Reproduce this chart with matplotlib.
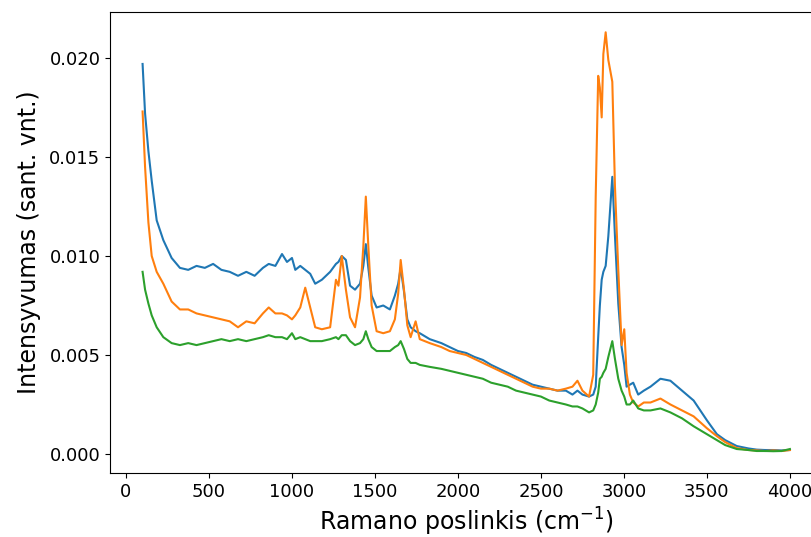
import matplotlib
matplotlib.use("Agg")
import matplotlib.pyplot as plt

raman_shift = [100, 115, 135, 155, 185, 225, 275, 325, 375, 425, 475, 525, 575, 625, 675, 725,
               775, 825, 860, 900, 940, 970, 1000, 1020, 1050, 1080, 1110, 1140, 1180, 1230,
               1265, 1280, 1300, 1325, 1350, 1380, 1410, 1430, 1445, 1460, 1480, 1510, 1550,
               1590, 1620, 1640, 1655, 1675, 1695, 1715, 1745, 1770, 1830, 1900, 1950, 2000,
               2050, 2100, 2150, 2200, 2250, 2300, 2350, 2400, 2450, 2500, 2550, 2600, 2650,
               2690, 2720, 2750, 2790, 2815, 2830, 2845, 2855, 2866, 2876, 2890, 2906, 2930,
               2946, 2966, 2986, 3002, 3016, 3036, 3056, 3086, 3120, 3160, 3220, 3280, 3350,
               3420, 3500, 3560, 3610, 3680, 3750, 3800, 3850, 3900, 3950, 4000]

spectrum_blue = [0.0197, 0.0172, 0.0153, 0.0138, 0.0118, 0.0108, 0.0099, 0.0094, 0.0093, 0.0095,
                 0.0094, 0.0096, 0.0093, 0.0092, 0.0090, 0.0092, 0.0090, 0.0094, 0.0096, 0.0095,
                 0.0101, 0.0097, 0.0099, 0.0093, 0.0095, 0.0093, 0.0091, 0.0086, 0.0088, 0.0092,
                 0.0096, 0.0097, 0.0100, 0.0098, 0.0085, 0.0083, 0.0086, 0.0095, 0.0106, 0.0094,
                 0.0080, 0.0074, 0.0075, 0.0073, 0.0080, 0.0086, 0.0094, 0.0082, 0.0068, 0.0064,
                 0.0062, 0.0061, 0.0058, 0.0056, 0.0054, 0.0052, 0.0051, 0.0049, 0.00475, 0.0045,
                 0.0043, 0.0041, 0.0039, 0.0037, 0.0035, 0.0034, 0.0033, 0.0032, 0.0032, 0.0030,
                 0.0032, 0.0030, 0.0029, 0.0030, 0.0034, 0.0059, 0.0075, 0.0088, 0.0092, 0.0095,
                 0.0110, 0.0140, 0.0110, 0.0076, 0.0054, 0.0045, 0.0034, 0.0035, 0.0036, 0.0030,
                 0.0032, 0.0034, 0.0038, 0.0037, 0.0032, 0.0027, 0.0017, 0.0010, 0.0007, 0.0004,
                 0.00028, 0.00022, 0.0002, 0.0002, 0.00018, 0.0002]

spectrum_orange = [0.0173, 0.0145, 0.0117, 0.0100, 0.0092, 0.0086, 0.0077, 0.0073, 0.0073, 0.0071,
                   0.0070, 0.0069, 0.0068, 0.0067, 0.0064, 0.0067, 0.0066, 0.0071, 0.0074, 0.0071,
                   0.0071, 0.0070, 0.0068, 0.0070, 0.0074, 0.0084, 0.0074, 0.0064, 0.0063, 0.0064,
                   0.0088, 0.0085, 0.0100, 0.0083, 0.0069, 0.0064, 0.0079, 0.0105, 0.0130, 0.0105,
                   0.0075, 0.0062, 0.0061, 0.0062, 0.0068, 0.0081, 0.0098, 0.0083, 0.0065, 0.0059,
                   0.0067, 0.0058, 0.0056, 0.0054, 0.0052, 0.0051, 0.0050, 0.0048, 0.0046, 0.0044,
                   0.0042, 0.0040, 0.0038, 0.0036, 0.0034, 0.0033, 0.0033, 0.0032, 0.0033, 0.0034,
                   0.0037, 0.0032, 0.0029, 0.0040, 0.0130, 0.0191, 0.0185, 0.0170, 0.0202, 0.0213,
                   0.0199, 0.0188, 0.0135, 0.0093, 0.0055, 0.0063, 0.0041, 0.0030, 0.0026, 0.0024,
                   0.0026, 0.0026, 0.0028, 0.0025, 0.0022, 0.0019, 0.0013, 0.0009, 0.0006, 0.0003,
                   0.0002, 0.00018, 0.00015, 0.00018, 0.00015, 0.0002]

spectrum_green = [0.0092, 0.0083, 0.0076, 0.0070, 0.0064, 0.0059, 0.0056, 0.0055, 0.0056, 0.0055,
                  0.0056, 0.0057, 0.0058, 0.0057, 0.0058, 0.0057, 0.0058, 0.0059, 0.0060, 0.0059,
                  0.0059, 0.0058, 0.0061, 0.0058, 0.0059, 0.0058, 0.0057, 0.0057, 0.0057, 0.0058,
                  0.0059, 0.0058, 0.0060, 0.0060, 0.0057, 0.0055, 0.0056, 0.0058, 0.0062, 0.0058,
                  0.0054, 0.0052, 0.0052, 0.0052, 0.0054, 0.0055, 0.0057, 0.0053, 0.0048, 0.0046,
                  0.0046, 0.0045, 0.0044, 0.0043, 0.0042, 0.0041, 0.0040, 0.0039, 0.0038, 0.0036,
                  0.0035, 0.0034, 0.0032, 0.0031, 0.0030, 0.0029, 0.0027, 0.0026, 0.0025, 0.0024,
                  0.0024, 0.0023, 0.0021, 0.0022, 0.0025, 0.0031, 0.0038, 0.0039, 0.0041, 0.0043,
                  0.0049, 0.0057, 0.0048, 0.0038, 0.0032, 0.0029, 0.0025, 0.0025, 0.0027, 0.0023,
                  0.0022, 0.0022, 0.0023, 0.0021, 0.0018, 0.0014, 0.0010, 0.0007, 0.00045, 0.00025,
                  0.0002, 0.00015, 0.00015, 0.00014, 0.00015, 0.00025]

x_ticks = [0, 500, 1000, 1500, 2000, 2500, 3000, 3500, 4000]
y_ticks = [0.000, 0.005, 0.010, 0.015, 0.020]

fig = plt.figure(figsize=(8.11, 5.37), dpi=100)
ax = fig.add_axes([0.1359, 0.1192, 0.878, 0.8583])

ax.plot(raman_shift, spectrum_blue, color="#1f77b4", lw=1.5)
ax.plot(raman_shift, spectrum_orange, color="#ff7f0e", lw=1.5)
ax.plot(raman_shift, spectrum_green, color="#2ca02c", lw=1.5)

ax.set_xlim(-95, 4195)
ax.set_ylim(-0.00096, 0.02232)
ax.set_xticks(x_ticks)
ax.set_yticks(y_ticks)
ax.set_yticklabels([f"{v:.3f}" for v in y_ticks])
ax.tick_params(labelsize=13)
ax.set_xlabel("Ramano poslinkis (cm$^{-1}$)", fontsize=17, labelpad=4)
ax.set_ylabel("Intensyvumas (sant. vnt.)", fontsize=17, labelpad=6)

fig.savefig("out.png", dpi=100)
